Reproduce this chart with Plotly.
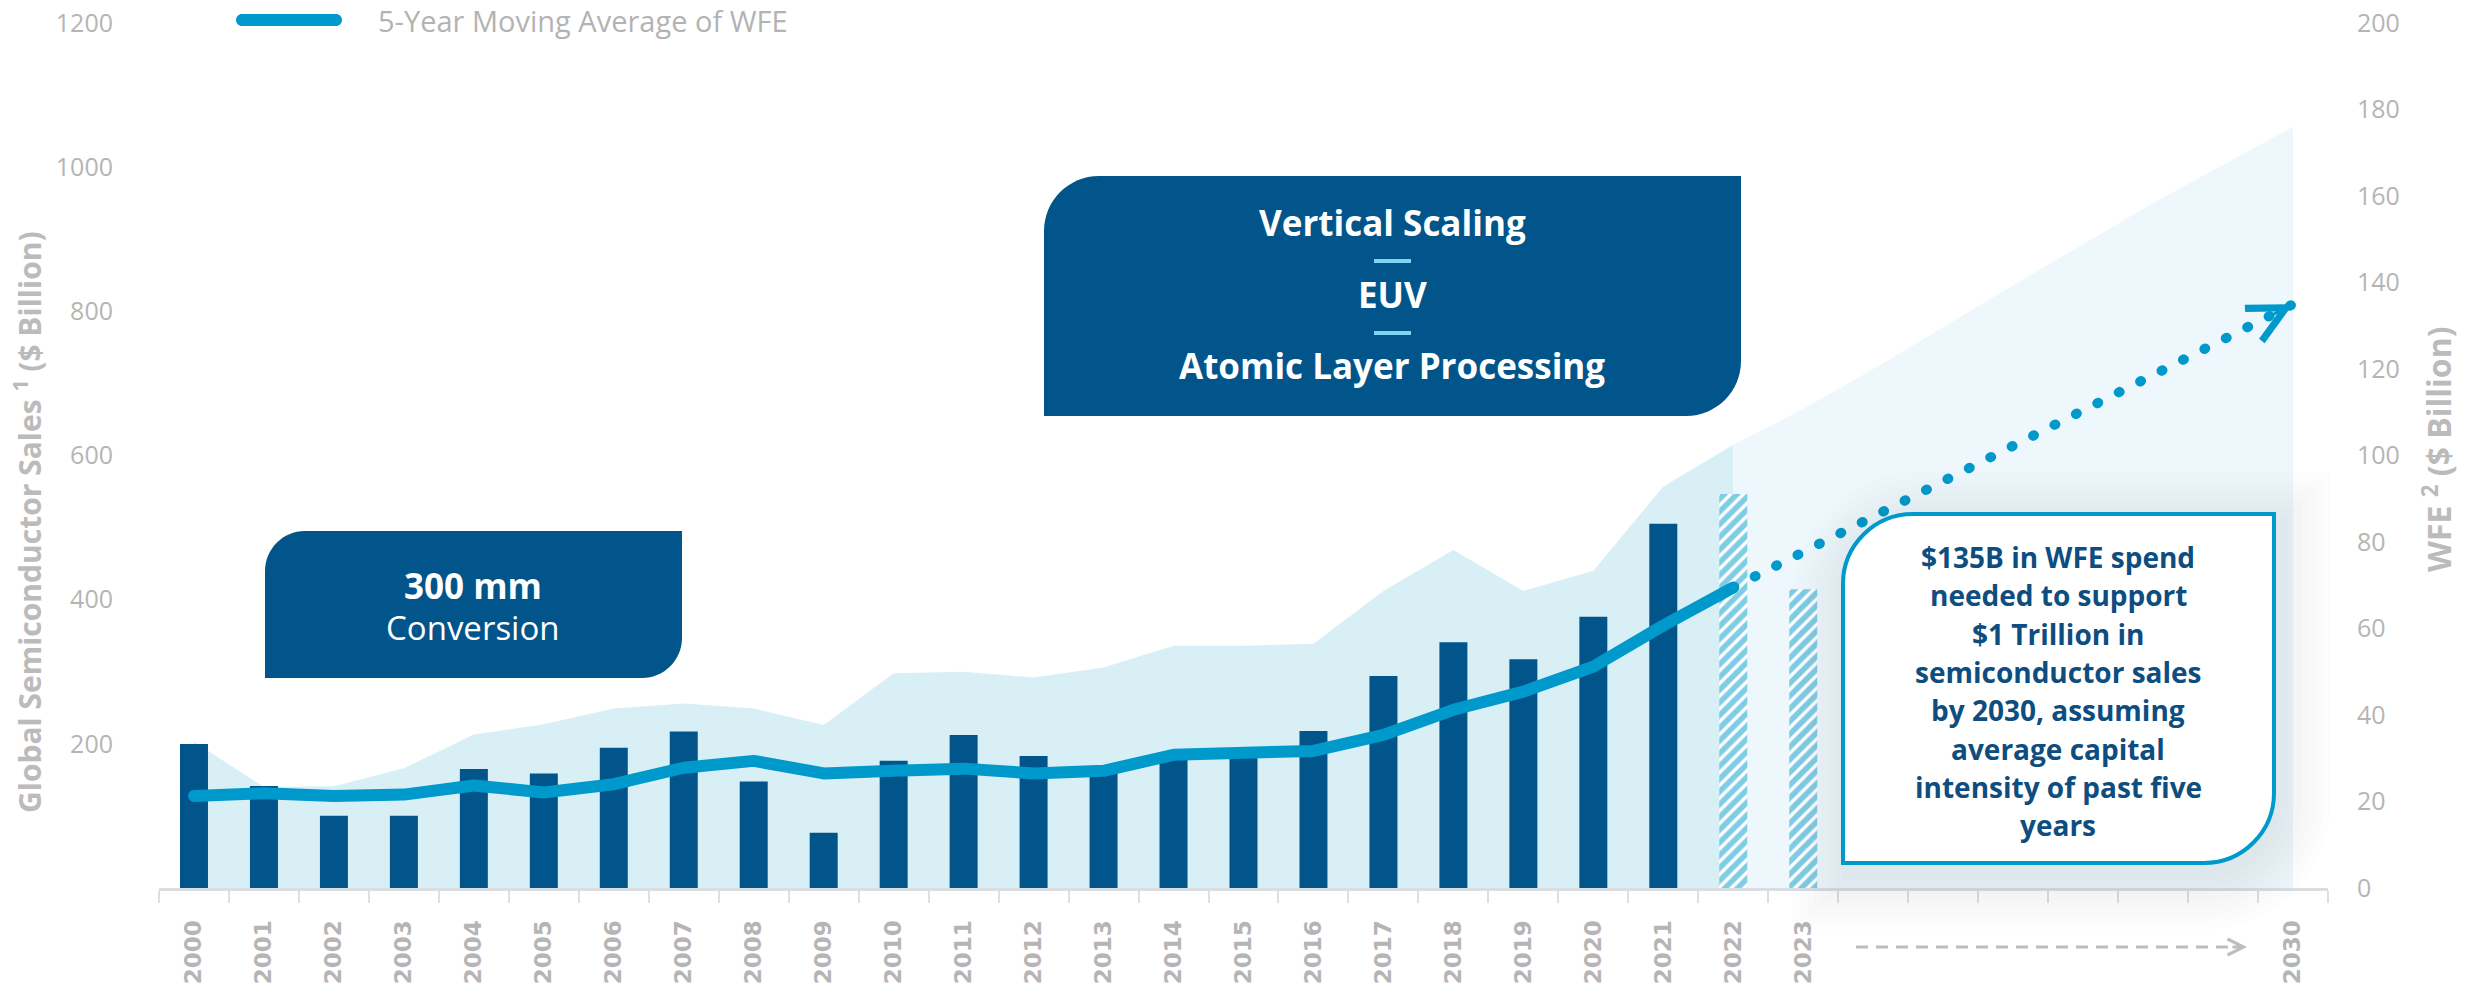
import plotly.graph_objects as go

# ---------------- data ----------------
sales_years = list(range(2000, 2023))
semi_sales = [203, 140, 141, 166, 213, 227, 249, 256, 249, 226, 298, 300, 292,
              306, 336, 336, 339, 412, 469, 412, 440, 557, 615]

outlook_years = list(range(2022, 2031))
outlook_sales = [615, 665, 720, 778, 836, 893, 950, 1003, 1056]

wfe_years = list(range(2000, 2022))
wfe = [33.3, 23.6, 16.7, 16.7, 27.5, 26.5, 32.4, 36.2, 24.6, 12.8, 29.4, 35.4,
       30.5, 27.0, 31.0, 31.0, 36.3, 49.0, 56.8, 52.9, 62.7, 84.2]

wfe_fcst_years = [2022, 2023]
wfe_fcst = [91.1, 69.1]

ma_years = list(range(2000, 2023))
wfe_ma5 = [21.3, 21.9, 21.3, 21.6, 23.7, 22.1, 24.0, 27.8, 29.4, 26.5, 27.1, 27.6,
           26.5, 27.1, 30.8, 31.4, 31.7, 35.4, 41.2, 45.4, 51.2, 60.7, 69.5]

path_years = [2022, 2030]
path_wfe = [69.5, 135]

tick_years = list(range(2000, 2024)) + [2030]
tick_text = [str(y) for y in tick_years]
left_ticks = [200, 400, 600, 800, 1000, 1200]
right_ticks = list(range(0, 201, 20))

callout_lines = ["$135B in WFE spend", "needed to support", "$1 Trillion in",
                 "semiconductor sales", "by 2030, assuming", "average capital",
                 "intensity of past five", "years"]

# ---------------- page geometry ----------------
W, H = 2469, 989
ML, MR, MT, MB = 159, 141, 23, 101
PW = W - ML - MR
PH = H - MT - MB


def px(x):
    return (x - ML) / PW


def py(y):
    return (H - MB - y) / PH


def _fmt(segs):
    s = ""
    for cmd, plist in segs:
        s += cmd + " ".join(f"{px(a):.5f},{py(b):.5f}" for a, b in plist) + " "
    return s + "Z"


def leaf_path(x0, y0, x1, y1, r):
    """Box with rounded top-left and bottom-right corners (pixel input)."""
    k = 0.5523
    return _fmt([
        ("M", [(x0, y1)]),
        ("L", [(x0, y0 + r)]),
        ("C", [(x0, y0 + r - k * r), (x0 + r - k * r, y0), (x0 + r, y0)]),
        ("L", [(x1, y0)]),
        ("L", [(x1, y1 - r)]),
        ("C", [(x1, y1 - r + k * r), (x1 - r + k * r, y1), (x1 - r, y1)]),
    ])


def pill_path(x0, x1, yc, r):
    k = 0.5523
    return _fmt([
        ("M", [(x0 + r, yc - r)]),
        ("L", [(x1 - r, yc - r)]),
        ("C", [(x1 - r + k * r, yc - r), (x1, yc - k * r), (x1, yc)]),
        ("C", [(x1, yc + k * r), (x1 - r + k * r, yc + r), (x1 - r, yc + r)]),
        ("L", [(x0 + r, yc + r)]),
        ("C", [(x0 + r - k * r, yc + r), (x0, yc + k * r), (x0, yc)]),
        ("C", [(x0, yc - k * r), (x0 + r - k * r, yc - r), (x0 + r, yc - r)]),
    ])


DARK = "#02558A"
CYAN = "#0099CC"
GREY = "#B5B5B5"
TITLE_GREY = "#BBBBBB"
FONT = "Open Sans"

fig = go.Figure()

# semiconductor sales (left axis)
fig.add_trace(go.Scatter(x=sales_years, y=semi_sales, mode="lines", fill="tozeroy",
                         fillcolor="#D9EFF6", line=dict(width=0, color="#D9EFF6"),
                         hoverinfo="skip", showlegend=False))
fig.add_trace(go.Scatter(x=outlook_years, y=outlook_sales, mode="lines", fill="tozeroy",
                         fillcolor="#EEF7FB", line=dict(width=0, color="#EEF7FB", shape="spline"),
                         hoverinfo="skip", showlegend=False))

# WFE bars (right axis)
fig.add_trace(go.Bar(x=wfe_years, y=wfe, yaxis="y2", width=0.4,
                     marker=dict(color=DARK, line=dict(width=0)), showlegend=False))
fig.add_trace(go.Bar(x=wfe_fcst_years, y=wfe_fcst, yaxis="y2", width=0.4,
                     marker=dict(color="white", line=dict(width=0),
                                 pattern=dict(shape="/", fgcolor=CYAN, bgcolor="white",
                                              size=9, solidity=0.62)),
                     showlegend=False))

# 5-year moving average and path to 2030
fig.add_trace(go.Scatter(x=ma_years, y=wfe_ma5, yaxis="y2", mode="lines",
                         line=dict(color=CYAN, width=12), showlegend=False))
fig.add_trace(go.Scatter(x=path_years, y=path_wfe, yaxis="y2", mode="lines",
                         line=dict(color=CYAN, width=10, dash="1px,23px"), showlegend=False))

shapes = []
annotations = []

# soft shadow under the outlook callout
bx0, by0, bx1, by1 = 1843, 514, 2274, 863
for i in range(8, 0, -1):
    e = 7 * i
    shapes.append(dict(type="path", xref="paper", yref="paper", layer="above",
                       path=leaf_path(bx0 - e + 6, by0 - e + 14, bx1 + e, by1 + e + 10, 70 + e),
                       fillcolor="rgba(60,100,125,0.013)", line=dict(width=0)))

# callout boxes
shapes.append(dict(type="path", xref="paper", yref="paper", layer="above",
                   path=leaf_path(265, 531, 682, 678, 40), fillcolor=DARK, line=dict(width=0)))
shapes.append(dict(type="path", xref="paper", yref="paper", layer="above",
                   path=leaf_path(1044, 176, 1741, 416, 55), fillcolor=DARK, line=dict(width=0)))
shapes.append(dict(type="path", xref="paper", yref="paper", layer="above",
                   path=leaf_path(bx0, by0, bx1, by1, 70), fillcolor="white",
                   line=dict(width=4, color=CYAN)))

# separators in the technology box
for yy in (261, 333):
    shapes.append(dict(type="line", xref="paper", yref="paper", layer="above",
                       x0=px(1374), x1=px(1411), y0=py(yy), y1=py(yy),
                       line=dict(color="#7FD4F2", width=4)))

# legend swatch
shapes.append(dict(type="path", xref="paper", yref="paper", layer="above",
                   path=pill_path(236, 342, 20, 6), fillcolor=CYAN, line=dict(width=0)))

# dashed "to 2030" arrow in the label row
shapes.append(dict(type="line", xref="paper", yref="paper", layer="above",
                   x0=px(1856), x1=px(2240), y0=py(947), y1=py(947),
                   line=dict(color="#BDBDBD", width=3, dash="12px,8px")))
annotations.append(dict(xref="paper", yref="paper", x=px(2247), y=py(947), text="",
                        showarrow=True, arrowhead=5, arrowsize=1.05, arrowwidth=3,
                        arrowcolor="#BDBDBD", ax=-16, ay=0))

# arrowhead on the path to 2030
annotations.append(dict(xref="x", yref="y2", x=path_years[-1], y=path_wfe[-1], text="",
                        showarrow=True, arrowhead=5, arrowsize=2.4, arrowwidth=3,
                        arrowcolor=CYAN, ax=-27, ay=14))


def label(x, y, text, size, color="white", bold=False, angle=0, xanchor="center"):
    annotations.append(dict(xref="paper", yref="paper", x=px(x), y=py(y), text=text,
                            showarrow=False, xanchor=xanchor, yanchor="middle",
                            textangle=angle,
                            font=dict(family=FONT, size=size, color=color,
                                      weight="bold" if bold else "normal")))


label(473, 585, "300 mm", 35, bold=True)
label(473, 628, "Conversion", 33)
label(1392, 222, "Vertical Scaling", 35, bold=True)
label(1392, 294, "EUV", 35, bold=True)
label(1392, 365, "Atomic Layer Processing", 35, bold=True)
for i, line in enumerate(callout_lines):
    label(2058, 557 + i * 38.3, line, 28, color="#0D4D80", bold=True)

# legend text
label(376, 20, "5-Year Moving Average of WFE", 29, color="#B3B3B3", xanchor="left")

# axis titles
label(28, 522, "Global Semiconductor Sales <sup>1</sup> ($ Billion)", 30,
      color=TITLE_GREY, bold=True, angle=-90)
label(2437, 449, "WFE <sup>2</sup> ($ Billion)", 32, color=TITLE_GREY, bold=True, angle=-90)

fig.update_layout(
    width=W, height=H,
    margin=dict(l=ML, r=MR, t=MT, b=MB, autoexpand=False),
    paper_bgcolor="white", plot_bgcolor="white",
    barmode="overlay", showlegend=False,
    shapes=shapes, annotations=annotations,
    xaxis=dict(range=[1999.5, 2030.5], tickmode="array", tickvals=tick_years,
               ticktext=tick_text, tickangle=-90, ticks="",
               tickfont=dict(family="DejaVu Sans", size=23, color=GREY, weight="bold"),
               ticklabelstandoff=20, showline=True, linecolor="#D9DEE3", linewidth=3,
               showgrid=False, zeroline=False,
               minor=dict(ticks="outside", ticklen=12, tickwidth=2, tickcolor="#DCE0E5",
                          tickmode="linear", tick0=1999.5, dtick=1, showgrid=False)),
    yaxis=dict(range=[0, 1200], tickmode="array", tickvals=left_ticks, ticks="",
               tickfont=dict(family=FONT, size=25, color=GREY),
               ticklabelstandoff=45, showgrid=False, zeroline=False, showline=False),
    yaxis2=dict(range=[0, 200], tickmode="array", tickvals=right_ticks, ticks="",
                overlaying="y", side="right",
                tickfont=dict(family=FONT, size=25, color=GREY),
                ticklabelstandoff=28, showgrid=False, zeroline=False, showline=False),
)

post = """
var gd = document.getElementById('{plot_id}');
function roundCaps() {
  gd.querySelectorAll('.scatterlayer .js-line').forEach(function (p) {
    p.style.strokeLinecap = 'round';
    p.style.strokeLinejoin = 'round';
  });
}
roundCaps();
gd.on('plotly_afterplot', roundCaps);
"""

fig.write_html("out.html", post_script=post,
               config={"responsive": False, "displayModeBar": False})
